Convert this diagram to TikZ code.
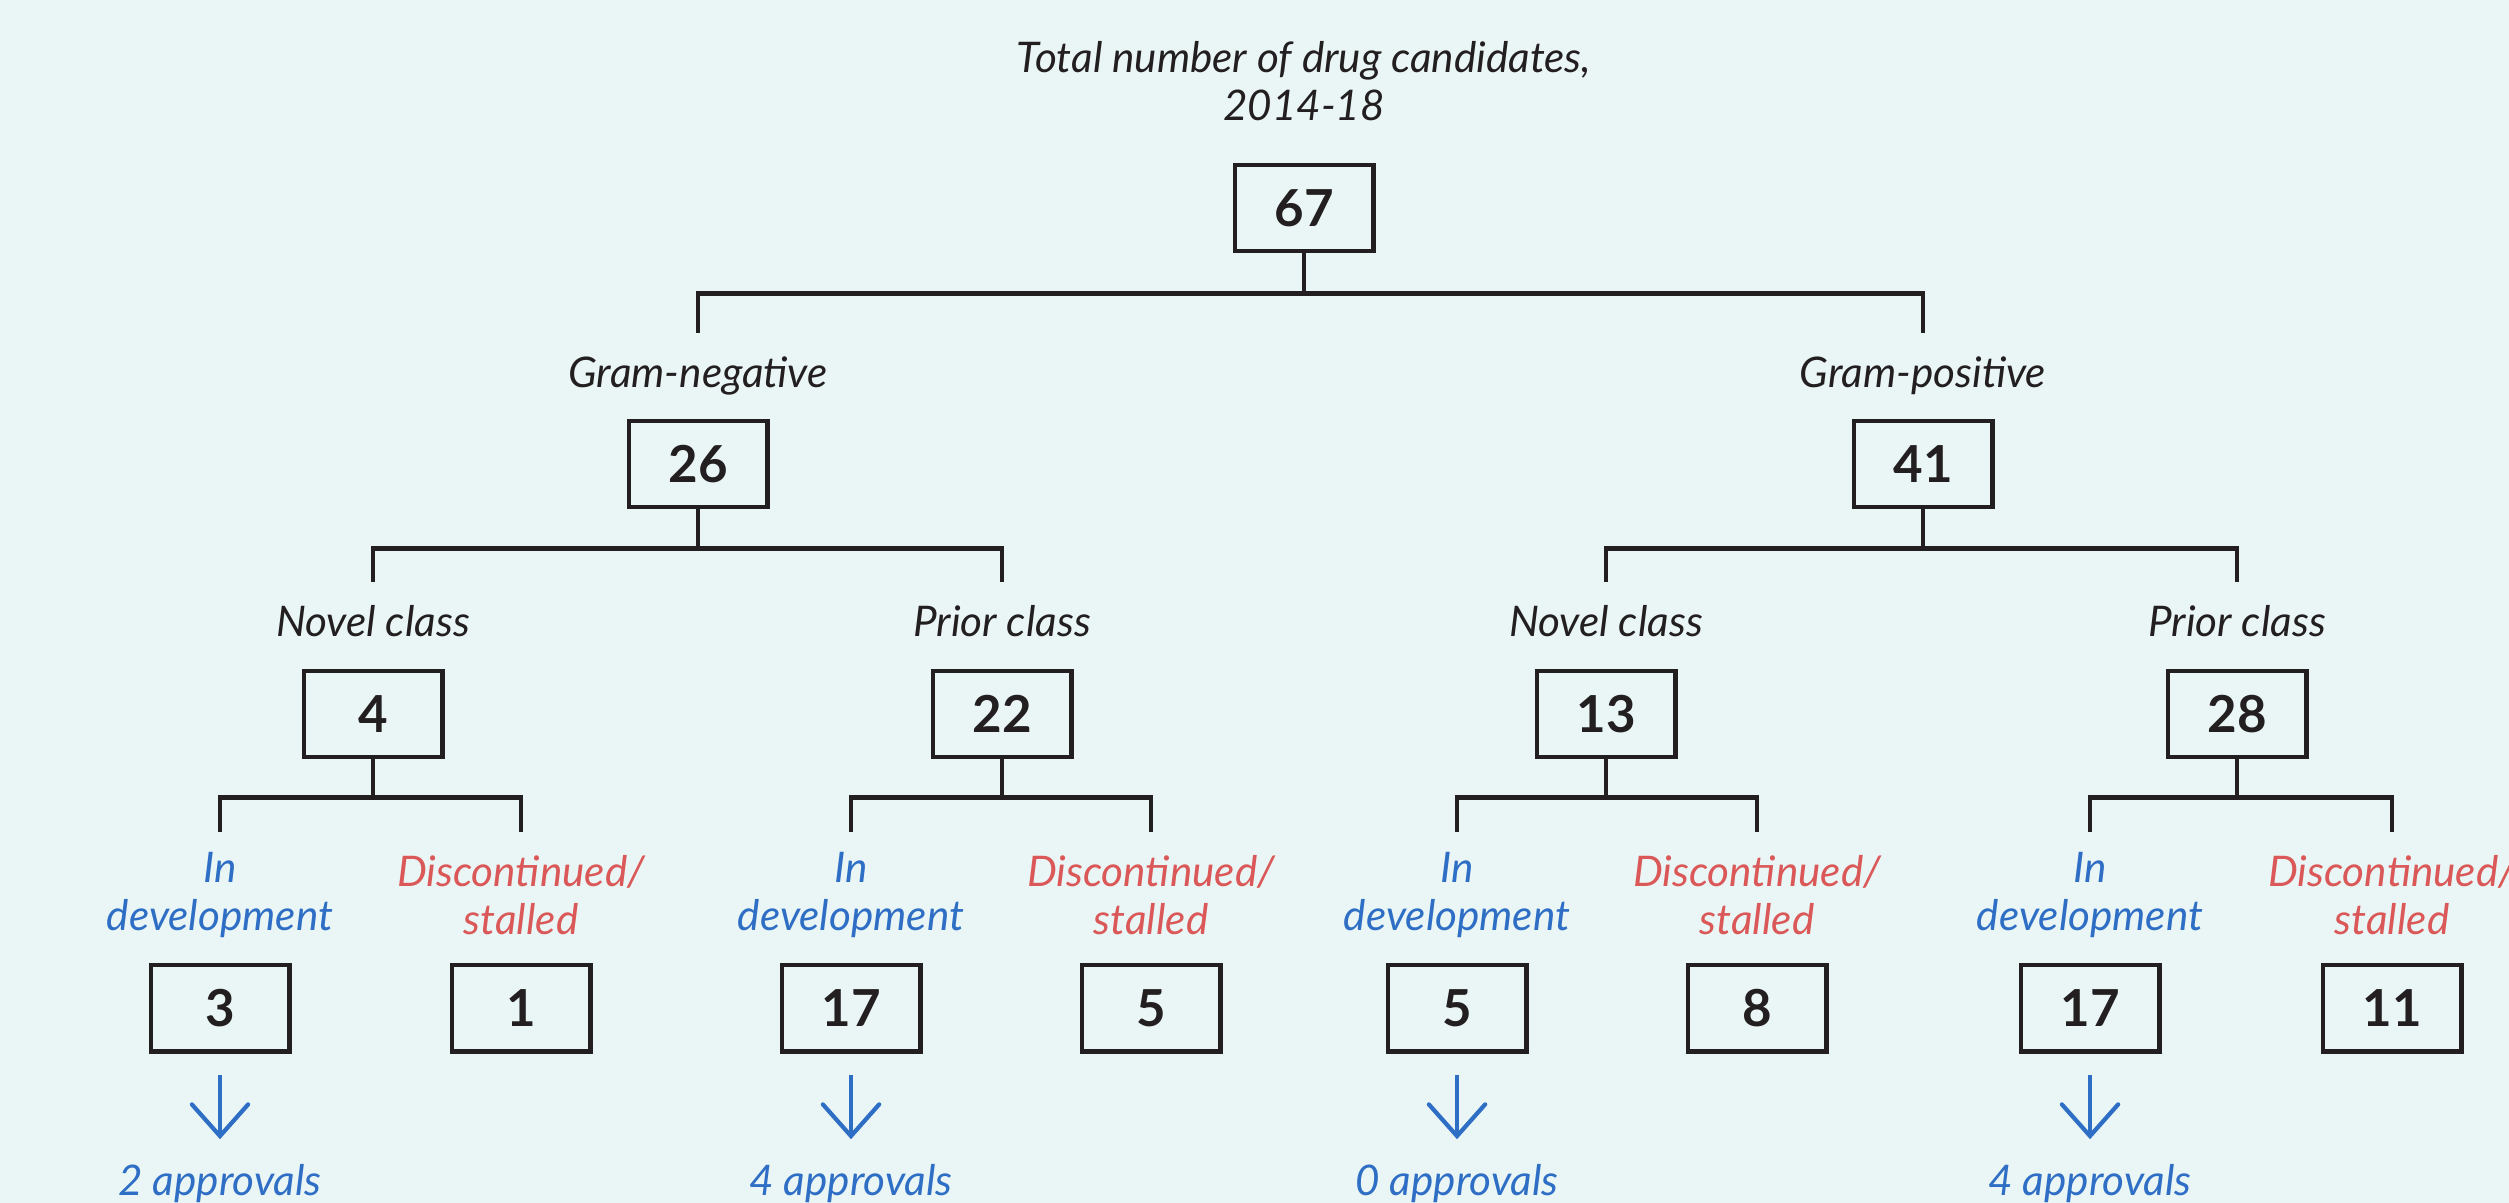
\documentclass[tikz,border=0pt]{standalone}
\usepackage{fontspec}
\setmainfont{Lato}
\usetikzlibrary{arrows.meta}
\definecolor{bgcol}{HTML}{EAF6F6}
\definecolor{ink}{HTML}{231F20}
\definecolor{devblue}{HTML}{2E6EC4}
\definecolor{haltred}{HTML}{DB5858}

\begin{document}
\begin{tikzpicture}[x=0.01cm,y=-0.01cm,
		tree/.style={draw=ink,line width=1.4pt},
		num/.style={draw=ink,line width=1.4pt,minimum width=1.38cm,minimum height=0.86cm,inner sep=0pt,text=ink,font=\fontsize{14.5}{16}\selectfont\bfseries},
		lab/.style={anchor=north,align=center,inner xsep=0pt,inner ysep=0.23cm,text=ink,font=\fontsize{12}{13.5}\selectfont\itshape},
		dev/.style={lab,text=devblue,inner ysep=0.2cm},
		halted/.style={lab,text=haltred,inner ysep=0.23cm},
		appr/.style={anchor=base,inner sep=0pt,text=devblue,font=\fontsize{12}{13.5}\selectfont\itshape},
		>={Straight Barb[length=9pt,width=16pt,line cap=round]}]
		\useasboundingbox[fill=bgcol] (0,0) rectangle (2509,1203);
		% top
		\node[lab,anchor=center,inner sep=0pt] (title) at (1304,81) {Total number of drug candidates,\\2014-18};
		\node[num] (n67) at (1304,208) {67};
		% gram split
		\node[lab] (gneg) at (698,333) {Gram-negative};
		\node[lab] (gpos) at (1923,333) {Gram-positive};
		\node[num] (n26) at (698,464) {26};
		\node[num] (n41) at (1923,464) {41};
		\draw[tree] (n67.south) -- ++(0,40) -| (gneg.north);
		\draw[tree] (n67.south) -- ++(0,40) -| (gpos.north);
		% class split
		\node[lab] (novl) at (373,582) {Novel class};
		\node[lab] (pril) at (1002,582) {Prior class};
		\node[lab] (novr) at (1606,582) {Novel class};
		\node[lab] (prir) at (2237,582) {Prior class};
		\node[num] (n4) at (373,714) {4};
		\node[num] (n22) at (1002,714) {22};
		\node[num] (n13) at (1606,714) {13};
		\node[num] (n28) at (2237,714) {28};
		\draw[tree] (n26.south) -- ++(0,39) -| (novl.north);
		\draw[tree] (n26.south) -- ++(0,39) -| (pril.north);
		\draw[tree] (n41.south) -- ++(0,39) -| (novr.north);
		\draw[tree] (n41.south) -- ++(0,39) -| (prir.north);
		% status split, one group per class box
		\foreach \p/\xa/\xb/\na/\nb/\ap in {n4/220/521/3/1/2, n22/851/1151/17/5/4, n13/1457/1757/5/8/0, n28/2090/2392/17/11/4}{
			\node[dev] (d-\p) at (\xa,832) {In\\development};
			\node[halted] (h-\p) at (\xb,832) {Discontinued/\\stalled};
			\node[num] (nd-\p) at (\xa,1008) {\na};
			\node[num] (nh-\p) at (\xb,1008) {\nb};
			\node[appr] (ap-\p) at (\xa,1195) {\ap\ approvals};
			\draw[tree] (\p.south) -- ++(0,38) -| (d-\p.north);
			\draw[tree] (\p.south) -- ++(0,38) -| (h-\p.north);
			\draw[->,devblue,line width=1.2pt,shorten <=0.21cm,shorten >=0.24cm] (nd-\p.south) -- (ap-\p.north);
		}
\end{tikzpicture}
\end{document}
